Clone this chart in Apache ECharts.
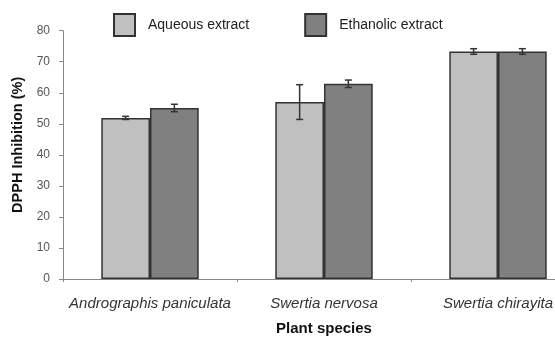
<!DOCTYPE html>
<html><head><meta charset="utf-8">
<script src="https://cdn.jsdelivr.net/npm/echarts@6/dist/echarts.min.js"></script>
<style>html,body{margin:0;padding:0;background:#fff}#c{width:555px;height:339px}</style>
</head><body><div id="c"></div>
<script>
const categories = ['Andrographis paniculata', 'Swertia nervosa', 'Swertia chirayita'];
const aqueous = [51.9, 57.0, 73.3];
const aqueousErr = [0.5, 5.6, 0.9];
const ethanolic = [55.1, 62.9, 73.3];
const ethanolicErr = [1.2, 1.2, 0.9];
const yTicks = [0, 10, 20, 30, 40, 50, 60, 70, 80];

const gapFrac = 0.44;
function errSeries(vals, errs, side) {
  return {
    type: 'custom',
    z: 10,
    data: vals.map((v, i) => [i, v, errs[i]]),
    renderItem: function (params, api) {
      const i = api.value(0), v = api.value(1), e = api.value(2);
      const band = api.size([1, 0])[0];
      const bw = band * (1 - gapFrac) / 2;
      const cx = api.coord([i, v])[0] + side * bw / 2;
      const top = api.coord([i, v + e])[1];
      const bot = api.coord([i, v - e])[1];
      const cap = 3.5;
      const st = { stroke: '#333', lineWidth: 1.5 };
      return { type: 'group', children: [
        { type: 'line', shape: { x1: cx, y1: top, x2: cx, y2: bot }, style: st },
        { type: 'line', shape: { x1: cx - cap, y1: top, x2: cx + cap, y2: top }, style: st },
        { type: 'line', shape: { x1: cx - cap, y1: bot, x2: cx + cap, y2: bot }, style: st }
      ]};
    }
  };
}

const chart = echarts.init(document.getElementById('c'));
chart.setOption({
  animation: false,
  textStyle: { fontFamily: 'Liberation Sans, Arial, sans-serif' },
  legend: {
    top: 13, left: 113, padding: 0, itemGap: 55, itemWidth: 21, itemHeight: 22,
    icon: 'rect',
    textStyle: { fontSize: 14, color: '#222', padding: [0, 0, 0, 8] },
    data: ['Aqueous extract', 'Ethanolic extract']
  },
  grid: { left: 63, right: -30, top: 30.7, bottom: 60, outerBoundsMode: 'none', containLabel: false },
  xAxis: {
    type: 'category', data: categories,
    axisLine: { lineStyle: { color: '#888', width: 1 } },
    axisTick: { show: true, length: 3, lineStyle: { color: '#888' } },
    axisLabel: { interval: 0, fontStyle: 'italic', fontSize: 15, color: '#333', margin: 17 },
    name: 'Plant species', nameLocation: 'middle', nameGap: 42,
    nameTextStyle: { fontWeight: 'bold', fontSize: 15, color: '#111' }
  },
  yAxis: {
    type: 'value', min: 0, max: 80, interval: 10,
    axisLine: { show: true, lineStyle: { color: '#888' } },
    axisTick: { show: true, length: 4, lineStyle: { color: '#888' } },
    splitLine: { show: false },
    axisLabel: { fontSize: 12, color: '#555', margin: 13,
      formatter: v => yTicks.includes(v) ? String(v) : '' },
    name: 'DPPH Inhibition (%)', nameLocation: 'middle', nameGap: 31,
    nameTextStyle: { fontWeight: 'bold', fontSize: 14.5, color: '#111', padding: [0, 0, 0, 20] }
  },
  series: [
    { name: 'Aqueous extract', type: 'bar', data: aqueous, barGap: '0%', barCategoryGap: (gapFrac * 100) + '%',
      itemStyle: { color: '#c0c0c0', borderColor: '#333', borderWidth: 1.5 } },
    { name: 'Ethanolic extract', type: 'bar', data: ethanolic, barGap: '0%', barCategoryGap: (gapFrac * 100) + '%',
      itemStyle: { color: '#808080', borderColor: '#333', borderWidth: 1.5 } },
    errSeries(aqueous, aqueousErr, -1),
    errSeries(ethanolic, ethanolicErr, 1)
  ]
});
</script></body></html>
